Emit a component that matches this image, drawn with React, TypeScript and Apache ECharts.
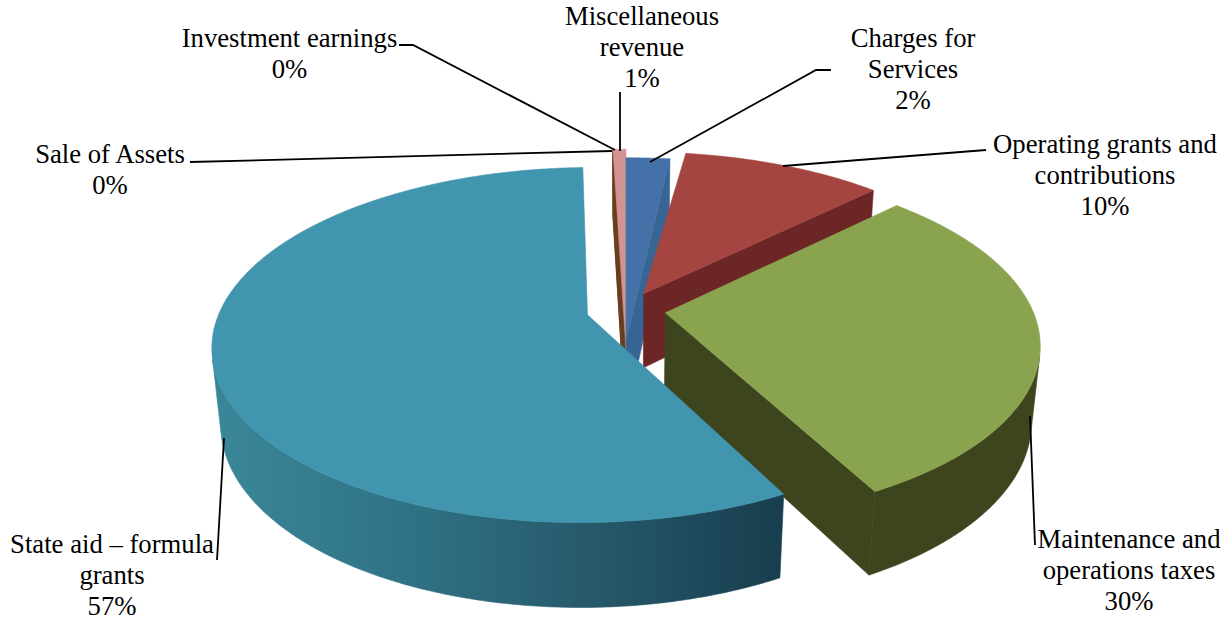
import React, { useEffect, useRef } from "react";
import * as echarts from "echarts";

// ---- data (percent of revenue, clockwise from 12 o'clock)
const categories = [
  "Charges for\nServices",
  "Operating grants and\ncontributions",
  "Maintenance and\noperations taxes",
  "State aid – formula\ngrants",
  "Sale of Assets",
  "Investment earnings",
  "Miscellaneous\nrevenue",
];
const values = [2.3, 10.4, 29.6, 57.28, 0.01, 0.01, 0.5];

// ---- styles
const topColors = ["#4472A8", "#A54542", "#8AA34E", "#4195AE", "#8C7FA6", "#8E8E9E", "#D39392"];
const wallColors = ["#376594", "#6B2625", "#3C451E", "#2C6A7C", "#6B3D1F", "#6B3D1F", "#6B3D1F"];

// ---- layout / projection
const CX = 626;
const CY = 310;
const D = 5.22;
const F = 1917;
const SIN = 0.465;
const COS = 0.885;
const H = 0.235;
const EXPLODE = 0.108;
// per slice: [world dx, world dy, radius, sweep scale]; null = explode along the bisector with unit radius
const sliceFrames: (number[] | null)[] = [
  [0.0, -0.17, 1.22, 0.8],
  null,
  null,
  null,
  [0.0, -0.22, 1.34, 5],
  [0.0, -0.22, 1.34, 5],
  [0.0, -0.22, 1.34, 1],
];
const drawOrder = [4, 5, 6, 0, 1, 2, 3];

const labelPositions: number[][] = [
  [913, 69],
  [1105, 175],
  [1129, 570],
  [112, 575],
  [110, 169.5],
  [289.5, 53.5],
  [642, 47],
];
const LINE_STEP = 31.3;
const leaderLines: number[][][] = [
  [[831, 70], [816, 70], [650, 162]],
  [[986, 150], [783, 166]],
  [[1035, 545], [1030, 416]],
  [[217, 560], [224, 438]],
  [[190, 162], [612, 151]],
  [[399, 45], [413, 45], [615, 150]],
  [[620, 92], [620, 151]],
];

const proj = (x: number, y: number, z: number) => {
  const w = D + y * COS - z * SIN;
  return [CX + (F * x) / w, CY - (F * (y * SIN + z * COS)) / w];
};
const cam = [0, -D * COS, D * SIN];
const facing = (p: number[], n: number[]) =>
  (p[0] - cam[0]) * n[0] + (p[1] - cam[1]) * n[1] + (p[2] - cam[2]) * n[2] < 0;

const total = values.reduce((a, b) => a + b, 0);
const angles: number[][] = [];
values.reduce((acc, v) => {
  const a0 = (acc / total) * Math.PI * 2;
  const a1 = ((acc + v) / total) * Math.PI * 2;
  angles.push([a0, a1]);
  return acc + v;
}, 0);

const tealWall = new echarts.graphic.LinearGradient(
  222, 0, 782, 0,
  [
    { offset: 0, color: "#3A8699" },
    { offset: 0.35, color: "#2F7184" },
    { offset: 0.65, color: "#265A6B" },
    { offset: 1, color: "#183E4F" },
  ],
  true
);
const thinTop = new echarts.graphic.LinearGradient(
  0, 151, 0, 240,
  [
    { offset: 0, color: "#9A93AE" },
    { offset: 0.5, color: "#8A6F6A" },
    { offset: 1, color: "#6B3D1F" },
  ],
  true
);

const poly = (points: number[][], fill: any) => ({
  type: "polygon",
  silent: true,
  shape: { points },
  style: { fill, stroke: fill, lineWidth: 0.6 },
});

const renderSlice = (_params: any, api: any) => {
  const i = api.value(0) as number;
  const a0 = angles[i][0];
  const frame = sliceFrames[i];
  const a1 = a0 + (angles[i][1] - a0) * (frame ? frame[3] : 1);
  const mid = (a0 + a1) / 2;
  const ox = frame ? frame[0] : EXPLODE * Math.sin(mid);
  const oy = frame ? frame[1] : EXPLODE * Math.cos(mid);
  const r = frame ? frame[2] : 1;
  const wall = i === 3 ? tealWall : wallColors[i];
  const top = i === 4 || i === 5 ? thinTop : topColors[i];

  const steps = Math.max(2, Math.ceil((a1 - a0) / 0.01));
  const ts: number[] = [];
  for (let k = 0; k <= steps; k++) ts.push(a0 + ((a1 - a0) * k) / steps);
  const rimPoint = (t: number) => [ox + r * Math.sin(t), oy + r * Math.cos(t)];

  const children: any[] = [];
  // radial faces
  const face = (t: number, n: number[]) => {
    const q = rimPoint(t);
    if (!facing([(ox + q[0]) / 2, (oy + q[1]) / 2, 0], n)) return;
    children.push(
      poly([proj(ox, oy, 0), proj(q[0], q[1], 0), proj(q[0], q[1], -H), proj(ox, oy, -H)], wallColors[i])
    );
  };
  face(a0, [-Math.cos(a0), Math.sin(a0), 0]);
  face(a1, [Math.cos(a1), -Math.sin(a1), 0]);
  // outer wall, only the runs that face the viewer
  let run: number[] = [];
  const flush = () => {
    if (run.length > 1) {
      const upper = run.map((t) => {
        const q = rimPoint(t);
        return proj(q[0], q[1], 0);
      });
      const lower = run
        .map((t) => {
          const q = rimPoint(t);
          return proj(q[0], q[1], -H);
        })
        .reverse();
      children.push(poly(upper.concat(lower), wall));
    }
    run = [];
  };
  ts.forEach((t) => {
    const q = rimPoint(t);
    if (facing([q[0], q[1], 0], [Math.sin(t), Math.cos(t), 0])) run.push(t);
    else flush();
  });
  flush();
  // top face
  const pts = [proj(ox, oy, 0)].concat(
    ts.map((t) => {
      const q = rimPoint(t);
      return proj(q[0], q[1], 0);
    })
  );
  children.push(poly(pts, top));
  return { type: "group", children };
};

export default function App() {
  const ref = useRef<HTMLDivElement>(null);
  useEffect(() => {
    document.body.style.margin = "0";
    const chart = echarts.init(ref.current!, undefined, { renderer: "svg" });
    const textEls = categories.flatMap((name, i) => {
      const lines = `${name}\n${Math.round(values[i])}%`.split("\n");
      return lines.map((text, k) => ({
        type: "text",
        x: labelPositions[i][0],
        y: labelPositions[i][1] + (k - (lines.length - 1) / 2) * LINE_STEP,
        silent: true,
        style: {
          text,
          fill: "#000",
          fontFamily: '"Liberation Serif", "Times New Roman", serif',
          fontSize: 26.7,
          lineHeight: 26,
          align: "center",
          verticalAlign: "middle",
          textAlign: "center",
          textVerticalAlign: "middle",
        },
      }));
    });
    const lineEls = leaderLines.map((points) => ({
      type: "polyline",
      silent: true,
      z: 10,
      shape: { points },
      style: { stroke: "#000", lineWidth: 1.8, fill: "none" },
    }));
    chart.setOption({
      animation: false,
      backgroundColor: "#fff",
      series: [
        {
          type: "custom",
          coordinateSystem: "none",
          renderItem: renderSlice,
          silent: true,
          data: drawOrder.map((i) => [i, values[i]]),
        },
      ],
      graphic: { elements: [...lineEls, ...textEls] },
    });
    return () => chart.dispose();
  }, []);
  return <div ref={ref} style={{ width: 1231, height: 622 }} />;
}
